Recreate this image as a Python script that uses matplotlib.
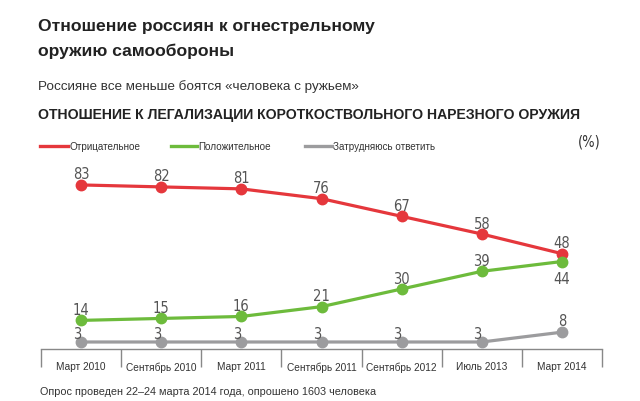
import matplotlib
matplotlib.use("Agg")
import matplotlib.pyplot as plt

periods = ["Март 2010", "Сентябрь 2010", "Март 2011", "Сентябрь 2011",
           "Сентябрь 2012", "Июль 2013", "Март 2014"]
negative = [83, 82, 81, 76, 67, 58, 48]
positive = [14, 15, 16, 21, 30, 39, 44]
unsure = [3, 3, 3, 3, 3, 3, 8]

RED = "#e5373c"
GREEN = "#6dbb3c"
GRAY = "#9c9c9e"

plt.rcParams["font.family"] = ["Liberation Sans", "DejaVu Sans"]

fig = plt.figure(figsize=(6.4, 4.02), dpi=100)
W, H = 640, 402
ax = fig.add_axes([41 / W, 1 - 350 / H, (602 - 41) / W, (350 - 140) / H])

x = list(range(len(periods)))
ax.plot(x, negative, color=RED, lw=2.3, marker="o", ms=7.5, zorder=3)
ax.plot(x, positive, color=GREEN, lw=2.3, marker="o", ms=7.5, zorder=3)
ax.plot(x, unsure, color=GRAY, lw=2.3, marker="o", ms=7.5, zorder=3)

lab = dict(fontsize=10.5, color="#555555", family="DejaVu Sans", fontstretch="condensed", ha="center")
for i, v in enumerate(negative):
    ax.annotate(str(v), (i, v), xytext=(0, 2.5), textcoords="offset points", va="bottom", **lab)
for i, v in enumerate(positive):
    if i == len(positive) - 1:
        ax.annotate(str(v), (i, v), xytext=(0, -7), textcoords="offset points", va="top", **lab)
    else:
        ax.annotate(str(v), (i, v), xytext=(0, 2.5), textcoords="offset points", va="bottom", **lab)
for i, v in enumerate(unsure):
    if i == len(unsure) - 1:
        ax.annotate(str(v), (i, v), xytext=(0, 3), textcoords="offset points", va="bottom", **lab)
    else:
        ax.annotate(str(v), (i, v), xytext=(-3, 1), textcoords="offset points", va="bottom", **lab)

ax.set_xlim(-0.5, len(periods) - 0.5)
ax.set_ylim(-0.57, 106.4)
for s in ["top", "right", "left"]:
    ax.spines[s].set_visible(False)
ax.spines["bottom"].set_color("#888888")
ax.spines["bottom"].set_linewidth(1)
ax.set_yticks([])
ax.set_xticks(x)
ax.set_xticklabels(periods, fontsize=7.3, color="#333333")
ax.tick_params(axis="x", which="major", length=0, pad=9)
ax.set_xticks([i - 0.5 for i in range(len(periods) + 1)], minor=True)
ax.tick_params(axis="x", which="minor", length=13, width=1, color="#888888", direction="out")

# legend drawn by hand
leg_y = 1 - 147 / H
for x0, x1, c, t in [(40, 68, RED, "Отрицательное"),
                     (171, 197, GREEN, "Положительное"),
                     (305, 332, GRAY, "Затрудняюсь ответить")]:
    fig.add_artist(plt.Line2D([x0 / W, x1 / W], [leg_y, leg_y], color=c, lw=2.4))
    fig.text((x1 + 1) / W, leg_y, t, fontsize=7.1, color="#333333", va="center")
fig.text(578 / W, 1 - 142 / H, "(%)", fontsize=10.5, color="#333333", va="center",
         family="DejaVu Sans", fontstretch="condensed")

fig.text(38 / W, 1 - 26 / H, "Отношение россиян к огнестрельному", fontsize=12.6,
         fontweight="bold", color="#222222", va="center")
fig.text(38 / W, 1 - 51 / H, "оружию самообороны", fontsize=12.6,
         fontweight="bold", color="#222222", va="center")
fig.text(38 / W, 1 - 87 / H, "Россияне все меньше боятся «человека с ружьем»", fontsize=9.7,
         color="#333333", va="center")
fig.text(38 / W, 1 - 115 / H, "ОТНОШЕНИЕ К ЛЕГАЛИЗАЦИИ КОРОТКОСТВОЛЬНОГО НАРЕЗНОГО ОРУЖИЯ",
         fontsize=10.05, fontweight="bold", color="#222222", va="center")
fig.text(40 / W, 1 - 392 / H, "Опрос проведен 22–24 марта 2014 года, опрошено 1603 человека",
         fontsize=7.8, color="#333333", va="center")

fig.savefig("out.png", dpi=100)
